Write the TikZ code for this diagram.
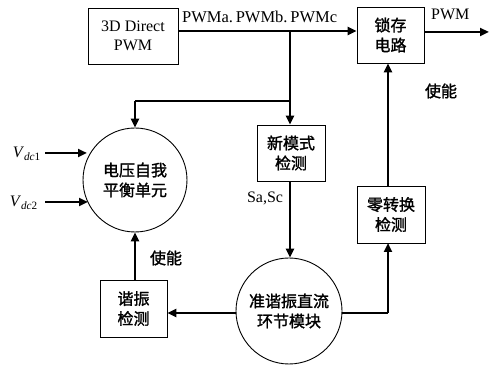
\documentclass[tikz,border=0pt]{standalone}
\usepackage{fontspec}
\setmainfont{Liberation Serif}
\newfontfamily\cjk[FakeBold=1.5]{Noto Sans CJK SC}
\usetikzlibrary{arrows.meta}
\begin{document}
\begin{tikzpicture}[x=1pt,y=-1pt,
  box/.style={draw,line width=0.9pt,minimum width=67pt,minimum height=56pt,inner sep=1pt,align=center,font=\cjk\fontsize{16}{20}\selectfont},
  circ/.style={draw,line width=0.9pt,circle,inner sep=0pt,align=center,font=\cjk\fontsize{16}{20}\selectfont},
  conn/.style={line width=2.4pt,-{Triangle[length=9pt,width=8pt]}},
  line/.style={line width=2.4pt},
  lab/.style={font=\fontsize{16}{18}\selectfont,inner sep=0pt},
  clab/.style={font=\cjk\fontsize{16}{18}\selectfont,inner sep=0pt}]
\useasboundingbox (0,0) rectangle (491,366);
\node[box,minimum width=90pt,font=\fontsize{16}{19}\selectfont] (dpwm) at (133,36) {3D Direct\\PWM};
\node[box] (latch) at (390.5,35) {锁存\\电路};
\node[box,minimum width=68pt] (newm) at (291,153) {新模式\\检测};
\node[box,minimum width=68pt,minimum height=57pt] (zero) at (391,214.5) {零转换\\检测};
\node[box,minimum height=57pt] (reso) at (133.5,308.5) {谐振\\检测};
\node[circ,minimum size=104pt] (c1) at (135,180) {电压自我\\平衡单元};
\node[circ,minimum size=106pt] (c2) at (289,311) {准谐振直流\\环节模块};
\coordinate (br) at (290,31);
\coordinate (bl) at (290,101);
\coordinate (out) at (489,32);
\coordinate (v1) at (45,153);
\coordinate (v2) at (45,202);
\node[lab,anchor=east] (v1l) at (41,154) {\textit{V}\textsubscript{\textit{dc}1}};
\node[lab,anchor=east] (v2l) at (38,203) {\textit{V}\textsubscript{\textit{dc}2}};
\node[lab,anchor=base west,font=\fontsize{16.5}{18}\selectfont] (pwml) at (182,23) {PWMa.\,PWMb.\,PWMc};
\node[lab,anchor=base west] (pwmo) at (431,20) {PWM};
\node[lab] (sasc) at (265,198) {Sa,Sc};
\node[clab] (en1) at (441,91) {使能};
\node[clab] (en2) at (166,258) {使能};
% connectors
\draw[conn] (dpwm.east |- br) -- (latch.west |- br);
\draw[conn] (latch.east |- out) -- (out);
\draw[conn] (br) -- (newm.north -| br);
\draw[line] (bl) -- (bl -| c1.north);
\draw[conn] (bl -| c1.north) -- (c1.north);
\draw[conn] (newm.south -| br) -- (c2.north -| br);
\draw[line] (c2.east) ++(0,2) -- (388,313);
\draw[conn] (388,313) -- (388,243);
\draw[conn] (zero.north -| 388,0) -- (latch.south -| 388,0);
\draw[conn] (c2.west) ++(0,2) -- (reso.east |- 0,313);
\draw[conn] (reso.north -| c1.south) -- (c1.south);
\draw[conn] (v1) -- (87,153);
\draw[conn] (v2) -- (88,202);
\end{tikzpicture}
\end{document}
